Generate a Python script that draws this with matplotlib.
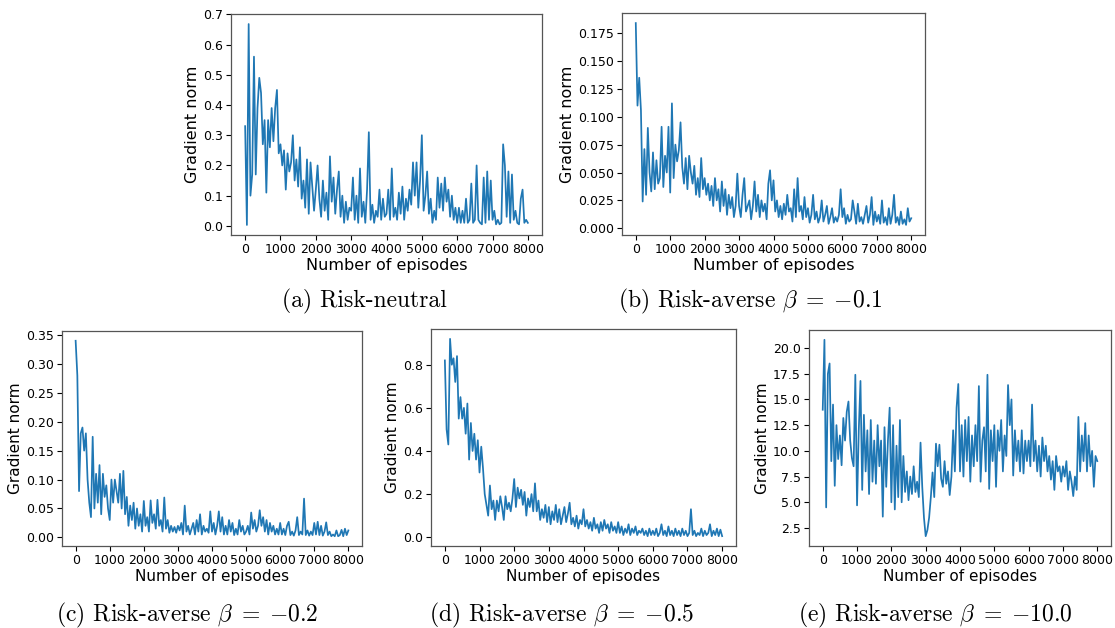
import numpy as np
import matplotlib
matplotlib.use("Agg")
import matplotlib.pyplot as plt

plt.rcParams['mathtext.fontset'] = 'cm'

episodes = list(range(0, 8001, 50))

grad_neutral = [
    0.33, 0.003, 0.668, 0.10, 0.17, 0.56, 0.17, 0.39, 0.49, 0.44, 0.27, 0.35, 0.11, 0.35, 0.26, 0.39, 0.28, 0.39, 0.45, 0.24,
    0.27, 0.20, 0.25, 0.12, 0.24, 0.18, 0.21, 0.30, 0.15, 0.22, 0.13, 0.26, 0.09, 0.15, 0.06, 0.22, 0.04, 0.21, 0.13, 0.05,
    0.12, 0.20, 0.09, 0.03, 0.15, 0.05, 0.11, 0.02, 0.23, 0.08, 0.16, 0.04, 0.12, 0.18, 0.03, 0.10, 0.01, 0.08, 0.02, 0.06,
    0.05, 0.16, 0.02, 0.10, 0.01, 0.19, 0.03, 0.08, 0.01, 0.12, 0.31, 0.02, 0.07, 0.01, 0.05, 0.03, 0.12, 0.02, 0.09, 0.03,
    0.04, 0.12, 0.02, 0.19, 0.03, 0.06, 0.02, 0.11, 0.04, 0.13, 0.02, 0.09, 0.05, 0.12, 0.07, 0.21, 0.10, 0.21, 0.06, 0.15,
    0.30, 0.05, 0.10, 0.18, 0.04, 0.09, 0.01, 0.05, 0.02, 0.16, 0.06, 0.14, 0.05, 0.16, 0.08, 0.12, 0.03, 0.10, 0.02, 0.06,
    0.01, 0.06, 0.01, 0.05, 0.01, 0.09, 0.01, 0.02, 0.14, 0.01, 0.02, 0.20, 0.02, 0.01, 0.005, 0.16, 0.01, 0.18, 0.02, 0.15,
    0.02, 0.05, 0.005, 0.02, 0.005, 0.01, 0.27, 0.20, 0.03, 0.18, 0.01, 0.17, 0.02, 0.05, 0.01, 0.005, 0.09, 0.12, 0.01, 0.02,
    0.01,
]

grad_b01 = [
    0.184, 0.11, 0.135, 0.106, 0.024, 0.071, 0.03, 0.09, 0.05, 0.033, 0.068, 0.035, 0.061, 0.04, 0.045, 0.091, 0.037, 0.065, 0.05, 0.091,
    0.032, 0.112, 0.045, 0.075, 0.06, 0.07, 0.095, 0.055, 0.04, 0.063, 0.035, 0.065, 0.05, 0.04, 0.056, 0.03, 0.045, 0.028, 0.063, 0.035,
    0.045, 0.03, 0.04, 0.025, 0.038, 0.02, 0.045, 0.025, 0.035, 0.015, 0.042, 0.02, 0.035, 0.012, 0.03, 0.018, 0.028, 0.01, 0.02, 0.049,
    0.02, 0.01, 0.03, 0.045, 0.015, 0.02, 0.025, 0.008, 0.02, 0.042, 0.015, 0.03, 0.01, 0.025, 0.015, 0.022, 0.008, 0.04, 0.052, 0.025,
    0.043, 0.015, 0.025, 0.01, 0.02, 0.008, 0.022, 0.012, 0.03, 0.015, 0.018, 0.006, 0.035, 0.01, 0.045, 0.015, 0.02, 0.008, 0.028, 0.01,
    0.018, 0.005, 0.012, 0.03, 0.008, 0.015, 0.005, 0.01, 0.025, 0.006, 0.012, 0.02, 0.004, 0.01, 0.018, 0.005, 0.01, 0.006, 0.012, 0.035,
    0.01, 0.018, 0.004, 0.012, 0.006, 0.008, 0.025, 0.015, 0.004, 0.022, 0.006, 0.01, 0.004, 0.012, 0.02, 0.005, 0.012, 0.028, 0.003, 0.015,
    0.006, 0.012, 0.004, 0.025, 0.005, 0.01, 0.003, 0.018, 0.004, 0.012, 0.03, 0.005, 0.01, 0.003, 0.015, 0.004, 0.008, 0.003, 0.018, 0.006,
    0.009,
]

grad_b02 = [
    0.34, 0.28, 0.08, 0.18, 0.19, 0.15, 0.18, 0.10, 0.06, 0.035, 0.174, 0.05, 0.11, 0.06, 0.125, 0.04, 0.11, 0.07, 0.09, 0.05,
    0.03, 0.10, 0.06, 0.10, 0.08, 0.06, 0.11, 0.05, 0.115, 0.04, 0.07, 0.02, 0.055, 0.03, 0.06, 0.015, 0.05, 0.02, 0.04, 0.01,
    0.063, 0.02, 0.035, 0.01, 0.064, 0.025, 0.04, 0.015, 0.065, 0.02, 0.03, 0.01, 0.069, 0.015, 0.03, 0.008, 0.02, 0.01, 0.018, 0.008,
    0.02, 0.012, 0.025, 0.005, 0.055, 0.01, 0.02, 0.005, 0.015, 0.025, 0.005, 0.03, 0.01, 0.04, 0.005, 0.02, 0.01, 0.015, 0.008, 0.045,
    0.01, 0.025, 0.005, 0.02, 0.045, 0.01, 0.035, 0.005, 0.02, 0.005, 0.03, 0.01, 0.025, 0.004, 0.015, 0.005, 0.03, 0.01, 0.02, 0.005,
    0.01, 0.02, 0.005, 0.043, 0.015, 0.03, 0.01, 0.02, 0.047, 0.02, 0.035, 0.01, 0.03, 0.005, 0.025, 0.01, 0.02, 0.005, 0.015, 0.005,
    0.025, 0.005, 0.015, 0.004, 0.02, 0.027, 0.004, 0.01, 0.003, 0.012, 0.035, 0.004, 0.01, 0.005, 0.067, 0.004, 0.012, 0.003, 0.01, 0.004,
    0.025, 0.005, 0.027, 0.004, 0.02, 0.003, 0.01, 0.026, 0.004, 0.01, 0.002, 0.005, 0.002, 0.012, 0.002, 0.004, 0.013, 0.002, 0.015, 0.004,
    0.012,
]

grad_b05 = [
    0.82, 0.50, 0.43, 0.92, 0.80, 0.83, 0.72, 0.84, 0.55, 0.65, 0.55, 0.60, 0.48, 0.62, 0.36, 0.53, 0.40, 0.48, 0.36, 0.45,
    0.30, 0.42, 0.32, 0.20, 0.15, 0.10, 0.24, 0.13, 0.17, 0.08, 0.17, 0.12, 0.19, 0.14, 0.08, 0.19, 0.13, 0.16, 0.12, 0.18,
    0.27, 0.14, 0.23, 0.18, 0.22, 0.15, 0.21, 0.10, 0.18, 0.14, 0.20, 0.12, 0.25, 0.12, 0.17, 0.08, 0.13, 0.09, 0.15, 0.07,
    0.14, 0.06, 0.12, 0.08, 0.15, 0.07, 0.13, 0.06, 0.10, 0.14, 0.07, 0.11, 0.16, 0.06, 0.09, 0.05, 0.10, 0.04, 0.08, 0.06,
    0.13, 0.05, 0.08, 0.04, 0.07, 0.03, 0.09, 0.04, 0.06, 0.02, 0.07, 0.03, 0.08, 0.04, 0.06, 0.02, 0.07, 0.03, 0.05, 0.02,
    0.07, 0.02, 0.05, 0.01, 0.04, 0.02, 0.06, 0.01, 0.04, 0.02, 0.05, 0.01, 0.03, 0.02, 0.04, 0.01, 0.03, 0.005, 0.04, 0.01,
    0.03, 0.01, 0.04, 0.005, 0.02, 0.06, 0.01, 0.03, 0.005, 0.05, 0.01, 0.03, 0.005, 0.04, 0.01, 0.03, 0.005, 0.04, 0.01, 0.03,
    0.005, 0.02, 0.13, 0.01, 0.03, 0.005, 0.02, 0.01, 0.04, 0.005, 0.03, 0.01, 0.02, 0.06, 0.005, 0.03, 0.01, 0.04, 0.005, 0.035,
    0.005,
]

grad_b10 = [
    14.0, 20.8, 4.5, 17.5, 18.5, 9.0, 14.5, 6.6, 12.5, 9.2, 11.5, 8.6, 13.2, 11.0, 13.8, 14.8, 11.0, 9.3, 8.5, 17.4,
    4.7, 12.0, 16.8, 6.2, 13.5, 8.0, 12.0, 5.8, 13.0, 7.0, 11.0, 6.8, 12.5, 8.5, 11.0, 3.6, 12.3, 6.5, 11.0, 14.2,
    5.0, 12.5, 4.3, 10.5, 5.5, 13.0, 5.0, 9.5, 6.0, 8.0, 5.2, 7.5, 5.8, 8.5, 6.0, 7.0, 5.5, 10.8, 6.5, 3.5,
    1.7, 2.3, 3.5, 5.5, 7.9, 5.5, 10.7, 8.5, 10.6, 7.3, 6.5, 9.0, 6.8, 8.0, 5.7, 7.5, 12.0, 8.0, 14.2, 16.5,
    8.0, 12.5, 7.5, 13.0, 9.0, 13.3, 7.0, 11.5, 8.5, 12.5, 9.0, 16.3, 7.0, 11.0, 12.3, 8.0, 17.4, 6.3, 12.0, 9.0,
    12.5, 6.5, 12.0, 10.0, 13.0, 8.0, 11.5, 9.5, 16.4, 12.5, 15.0, 7.6, 12.0, 9.0, 11.0, 8.0, 12.0, 7.8, 11.0, 9.0,
    11.0, 8.5, 14.5, 9.0, 11.0, 8.0, 10.5, 7.5, 11.3, 9.0, 10.5, 8.0, 9.5, 7.2, 9.0, 6.2, 9.5, 8.0, 8.5, 7.0,
    8.5, 7.5, 9.0, 6.2, 8.0, 7.0, 5.6, 7.5, 6.2, 13.3, 8.0, 11.5, 9.0, 12.7, 8.0, 11.5, 8.5, 10.0, 6.5, 9.5,
    9.0,
]

captions = [
    r"(a) Risk-neutral",
    r"(b) Risk-averse $\beta\;=\;{-0.1}$",
    r"(c) Risk-averse $\beta\;=\;{-0.2}$",
    r"(d) Risk-averse $\beta\;=\;{-0.5}$",
    r"(e) Risk-averse $\beta\;=\;{-10.0}$",
]
series = [grad_neutral, grad_b01, grad_b02, grad_b05, grad_b10]

xticks = [0, 1000, 2000, 3000, 4000, 5000, 6000, 7000, 8000]
yticks_list = [
    [0.0, 0.1, 0.2, 0.3, 0.4, 0.5, 0.6, 0.7],
    [0.0, 0.025, 0.05, 0.075, 0.1, 0.125, 0.15, 0.175],
    [0.0, 0.05, 0.1, 0.15, 0.2, 0.25, 0.3, 0.35],
    [0.0, 0.2, 0.4, 0.6, 0.8],
    [2.5, 5.0, 7.5, 10.0, 12.5, 15.0, 17.5, 20.0],
]
ytick_fmt = ["{:.1f}", "{:.3f}", "{:.2f}", "{:.1f}", "{:.1f}"]

W, H = 1115, 628
fig = plt.figure(figsize=(W / 100, H / 100), dpi=100)

# axes boxes in pixels: (left, top, right, bottom)
boxes = [
    (231, 14, 542, 235),
    (622, 13, 925, 235),
    (62, 331, 362, 546),
    (431, 329, 736, 546),
    (809, 330, 1111, 546),
]
cap_pos = [(364, 301), (750, 301), (187, 615), (562, 615), (935, 615)]

for i, (l, t, r, b) in enumerate(boxes):
    ax = fig.add_axes([l / W, 1 - b / H, (r - l) / W, (b - t) / H])
    ax.plot(episodes, series[i], color='#1f77b4', lw=1.25)
    ax.set_xticks(xticks)
    ax.set_yticks(yticks_list[i])
    ax.set_yticklabels([ytick_fmt[i].format(v) for v in yticks_list[i]])
    ax.tick_params(labelsize=9, length=3.5, width=0.8, pad=2.5)
    fs = 11.5 if i < 2 else 11
    ax.set_xlabel("Number of episodes", fontsize=fs, labelpad=1)
    ax.set_ylabel("Gradient norm", fontsize=fs, labelpad=2)
    for s in ax.spines.values():
        s.set_color('#555555')
        s.set_linewidth(0.9)
    cx, cy = cap_pos[i]
    fig.text(cx / W, 1 - cy / H, captions[i], ha='center', va='center',
             fontsize=17, family='cmr10')

fig.savefig("out.png", dpi=100)
